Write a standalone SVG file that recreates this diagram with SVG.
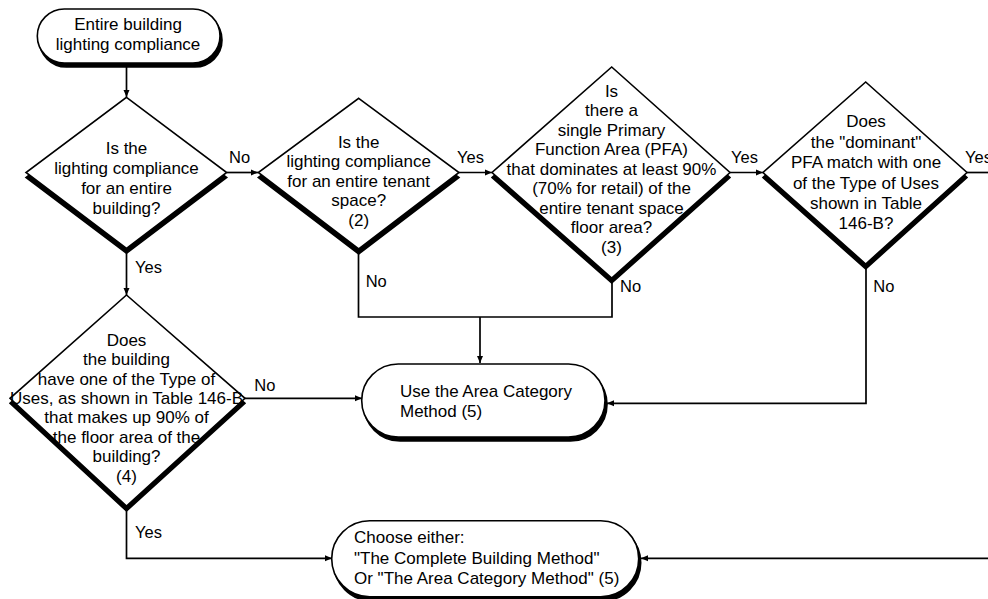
<svg xmlns="http://www.w3.org/2000/svg" width="988" height="599" viewBox="0 0 988 599">
<style>
  text { font-family: "Liberation Sans", Arial, sans-serif; font-size: 17px; fill: #000; }
  .c { text-anchor: middle; }
  .lbl { font-size: 16.5px; }
  .shape { fill: #fff; stroke: #000; stroke-width: 1.6; }
  .shadow { fill: #000; stroke: #000; stroke-width: 1.6; }
  .conn { fill: none; stroke: #000; stroke-width: 1.7; }
</style>
<defs>
  <marker id="arr" markerUnits="userSpaceOnUse" markerWidth="8" markerHeight="7" refX="7" refY="3.5" orient="auto">
    <path d="M0,0.5 L7,3.5 L0,6.5 Z" fill="#000"/>
  </marker>
</defs>
<rect width="988" height="599" fill="#fff"/>

<g id="connectors">
  <path class="conn" d="M126.5,67 V97" marker-end="url(#arr)"/>
  <path class="conn" d="M227,172.5 H258" marker-end="url(#arr)"/>
  <path class="conn" d="M459,172.5 H492" marker-end="url(#arr)"/>
  <path class="conn" d="M730,172.5 H763" marker-end="url(#arr)"/>
  <path class="conn" d="M967,172.5 H988"/>
  <path class="conn" d="M126.5,253 V295" marker-end="url(#arr)"/>
  <path class="conn" d="M358.5,253 V317 H612 V282"/>
  <path class="conn" d="M480,317 V363" marker-end="url(#arr)"/>
  <path class="conn" d="M866,268 V403.3 H607" marker-end="url(#arr)"/>
  <path class="conn" d="M245,398.3 H362" marker-end="url(#arr)"/>
  <path class="conn" d="M126.5,510 V558.3 H332" marker-end="url(#arr)"/>
  <path class="conn" d="M988,558.3 H641" marker-end="url(#arr)"/>
  <text class="lbl" x="229" y="162.7">No</text>
  <text class="lbl" x="457" y="162.7">Yes</text>
  <text class="lbl" x="731" y="162.7">Yes</text>
  <text class="lbl" x="965" y="162.7">Yes</text>
  <text class="lbl" x="135" y="273.3">Yes</text>
  <text class="lbl" x="365.7" y="287.3">No</text>
  <text class="lbl" x="620" y="291.7">No</text>
  <text class="lbl" x="873.3" y="291.7">No</text>
  <text class="lbl" x="254.3" y="390.7">No</text>
  <text class="lbl" x="135" y="538.3">Yes</text>
</g>

<g id="start">
  <rect class="shadow" x="39.3" y="13" width="182.7" height="54" rx="27"/>
  <rect class="shape" x="37.3" y="9" width="182.7" height="54" rx="27"/>
  <text class="c" x="128" y="29.5">Entire building</text>
  <text class="c" x="128" y="49.5">lighting compliance</text>
</g>

<g id="d1">
  <polygon class="shadow" points="126.5,102.3 226.7,177.5 126.5,253.3 26,177.5"/>
  <polygon class="shape" points="126.5,97.3 226.7,172.5 126.5,248.3 26,172.5"/>
  <text class="c" x="126.5" y="153.5">Is the</text>
  <text class="c" x="126.5" y="173.7">lighting compliance</text>
  <text class="c" x="126.5" y="193.9">for an entire</text>
  <text class="c" x="126.5" y="214.1">building?</text>
</g>

<g id="d2">
  <polygon class="shadow" points="358.7,103.3 459,177.5 358.7,254 258.3,177.5"/>
  <polygon class="shape" points="358.7,98.3 459,172.5 358.7,249 258.3,172.5"/>
  <text class="c" x="358.7" y="147.5">Is the</text>
  <text class="c" x="358.7" y="167">lighting compliance</text>
  <text class="c" x="358.7" y="186.5">for an entire tenant</text>
  <text class="c" x="358.7" y="206">space?</text>
  <text class="c" x="358.7" y="225.5">(2)</text>
</g>

<g id="d3">
  <polygon class="shadow" points="611.7,72 730,177.5 611.7,283 492,177.5"/>
  <polygon class="shape" points="611.7,67 730,172.5 611.7,278 492,172.5"/>
  <text class="c" x="611.5" y="96.7">Is</text>
  <text class="c" x="611.5" y="116.2">there a</text>
  <text class="c" x="611.5" y="135.7">single Primary</text>
  <text class="c" x="611.5" y="155.2">Function Area (PFA)</text>
  <text class="c" x="611.5" y="174.7">that dominates at least 90%</text>
  <text class="c" x="611.5" y="194.2">(70% for retail) of the</text>
  <text class="c" x="611.5" y="213.7">entire tenant space</text>
  <text class="c" x="611.5" y="233.2">floor area?</text>
  <text class="c" x="611.5" y="252.7">(3)</text>
</g>

<g id="d4">
  <polygon class="shadow" points="865.7,87 967,177.5 865.7,269 763,177.5"/>
  <polygon class="shape" points="865.7,82 967,172.5 865.7,264 763,172.5"/>
  <text class="c" x="866" y="127.3">Does</text>
  <text class="c" x="866" y="147.7">the "dominant"</text>
  <text class="c" x="866" y="168.1">PFA match with one</text>
  <text class="c" x="866" y="188.5">of the Type of Uses</text>
  <text class="c" x="866" y="208.9">shown in Table</text>
  <text class="c" x="866" y="229.3">146-B?</text>
</g>

<g id="d5">
  <polygon class="shadow" points="126.5,300 245,403.3 126.5,511 10,403.3"/>
  <polygon class="shape" points="126.5,295 245,398.3 126.5,506 10,398.3"/>
  <text class="c" x="126.5" y="345.7">Does</text>
  <text class="c" x="126.5" y="365.1">the building</text>
  <text class="c" x="126.5" y="384.6">have one of the Type of</text>
  <text class="c" x="126.5" y="404">Uses, as shown in Table 146-B</text>
  <text class="c" x="126.5" y="423.4">that makes up 90% of</text>
  <text class="c" x="126.5" y="442.9">the floor area of the</text>
  <text class="c" x="126.5" y="462.3">building?</text>
  <text class="c" x="126.5" y="481.7">(4)</text>
</g>

<g id="area-category">
  <rect class="shadow" x="363.7" y="368" width="243.3" height="73" rx="36.5"/>
  <rect class="shape" x="361.7" y="364" width="243.3" height="73" rx="36.5"/>
  <text x="400" y="397.3">Use the Area Category</text>
  <text x="400" y="417.3">Method (5)</text>
</g>

<g id="choose">
  <rect class="shadow" x="333.7" y="524.7" width="307" height="76" rx="38"/>
  <rect class="shape" x="331.7" y="520.7" width="307" height="76" rx="38"/>
  <text x="354" y="543.3">Choose either:</text>
  <text x="354" y="564">"The Complete Building Method"</text>
  <text x="354" y="584">Or "The Area Category Method" (5)</text>
</g>
</svg>
